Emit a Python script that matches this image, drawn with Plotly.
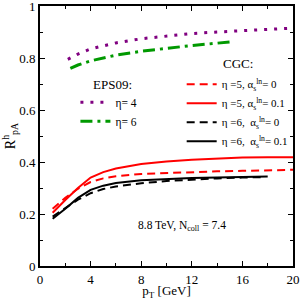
import plotly.graph_objects as go

# EPS09 curves
eps_eta4_x = [2.2, 3, 4, 6, 8, 10, 12, 14, 16, 18, 20]
eps_eta4_y = [0.795, 0.815, 0.835, 0.858, 0.874, 0.885, 0.894, 0.900, 0.905, 0.910, 0.915]
eps_eta6_x = [2.4, 3, 4, 5, 6, 8, 10, 12, 14, 15]
eps_eta6_y = [0.760, 0.773, 0.789, 0.801, 0.811, 0.826, 0.838, 0.848, 0.857, 0.862]

# CGC curves
cgc_x = [1, 1.5, 2, 3, 4, 5, 6, 8, 10, 12, 14, 16, 18, 20]
cgc_e5_a0 = [0.220, 0.242, 0.262, 0.297, 0.323, 0.337, 0.345, 0.354, 0.358, 0.361, 0.364, 0.366, 0.368, 0.370]
cgc_e5_a01 = [0.205, 0.230, 0.254, 0.300, 0.340, 0.361, 0.375, 0.392, 0.402, 0.409, 0.414, 0.417, 0.418, 0.418]
cgc_e6_a0_x = [1, 1.5, 2, 3, 4, 5, 6, 8, 10, 12, 14, 16, 17.7]
cgc_e6_a0 = [0.190, 0.206, 0.222, 0.255, 0.280, 0.296, 0.306, 0.318, 0.327, 0.333, 0.337, 0.340, 0.342]
cgc_e6_a01_x = [1, 1.5, 2, 3, 4, 5, 6, 8, 10, 12, 14, 16, 18]
cgc_e6_a01 = [0.182, 0.201, 0.220, 0.262, 0.293, 0.309, 0.319, 0.330, 0.335, 0.338, 0.340, 0.342, 0.344]

x_ticks = [0, 4, 8, 12, 16, 20]
y_ticks = [0, 0.2, 0.4, 0.6, 0.8, 1]
y_ticklabels = ["0", "0.2", "0.4", "0.6", "0.8", "1"]

FONT = "Liberation Serif"

fig = go.Figure()
fig.add_trace(go.Scatter(x=eps_eta4_x, y=eps_eta4_y, mode="lines", name="η= 4",
                         line=dict(color="#800080", width=3, dash="3px,7px"), legend="legend"))
fig.add_trace(go.Scatter(x=eps_eta6_x, y=eps_eta6_y, mode="lines", name="η= 6",
                         line=dict(color="#009900", width=3, dash="12px,5px,3px,5px"), legend="legend"))
fig.add_trace(go.Scatter(x=cgc_x, y=cgc_e5_a0, mode="lines", name="η =5, α<sub>s</sub><sup>ln</sup>= 0",
                         line=dict(color="#ff0000", width=2, dash="8px,5px"), legend="legend2"))
fig.add_trace(go.Scatter(x=cgc_x, y=cgc_e5_a01, mode="lines", name="η =5, α<sub>s</sub><sup>ln</sup>= 0.1",
                         line=dict(color="#ff0000", width=2), legend="legend2"))
fig.add_trace(go.Scatter(x=cgc_e6_a0_x, y=cgc_e6_a0, mode="lines", name="η =6,  α<sub>s</sub><sup>ln</sup>= 0",
                         line=dict(color="#000000", width=2, dash="8px,5px"), legend="legend2"))
fig.add_trace(go.Scatter(x=cgc_e6_a01_x, y=cgc_e6_a01, mode="lines", name="η =6,  α<sub>s</sub><sup>ln</sup>= 0.1",
                         line=dict(color="#000000", width=2), legend="legend2"))

axis_common = dict(showline=True, linecolor="black", linewidth=2, mirror="ticks",
                   ticks="inside", ticklen=5, tickwidth=1.2, tickcolor="black",
                   showgrid=False, zeroline=False, automargin=False, ticklabeloverflow="allow",
                   tickfont=dict(family=FONT, size=13, color="black"))

fig.update_xaxes(range=[0, 20], tickvals=x_ticks,
                 minor=dict(ticks="inside", ticklen=3, tickwidth=1.2, dtick=2, tickcolor="black"),
                 title=dict(text="p<sub>T</sub> [GeV]", font=dict(family=FONT, size=13, color="black"), standoff=0),
                 **axis_common)
fig.update_yaxes(range=[0, 1], tickvals=y_ticks, ticktext=y_ticklabels,
                 minor=dict(ticks="inside", ticklen=3, tickwidth=1.2, dtick=0.1, tickcolor="black"),
                 title=dict(text="R<sup>h</sup><sub>pA</sub>", font=dict(family=FONT, size=14, color="black"), standoff=2),
                 **axis_common)

fig.update_layout(
    width=300, height=300,
    margin=dict(l=40, r=7, t=6, b=34),
    plot_bgcolor="white", paper_bgcolor="white",
    font=dict(family=FONT, size=12, color="black"),
    legend=dict(x=0.14, y=0.686, xanchor="left", yanchor="top", bgcolor="rgba(0,0,0,0)",
                font=dict(family=FONT, size=11.5), tracegroupgap=0, itemwidth=30),
    legend2=dict(x=0.56, y=0.755, xanchor="left", yanchor="top", bgcolor="rgba(0,0,0,0)",
                 font=dict(family=FONT, size=11), tracegroupgap=0, itemwidth=30),
    annotations=[
        dict(text="EPS09:", x=0.2, y=0.70, xref="paper", yref="paper", showarrow=False,
             xanchor="left", yanchor="middle", font=dict(family=FONT, size=13)),
        dict(text="CGC:", x=0.715, y=0.778, xref="paper", yref="paper", showarrow=False,
             xanchor="left", yanchor="middle", font=dict(family=FONT, size=13)),
        dict(text="8.8 TeV, N<sub>coll</sub> = 7.4", x=0.56, y=0.155, xref="paper", yref="paper",
             showarrow=False, xanchor="center", yanchor="middle", font=dict(family=FONT, size=11.5)),
    ],
)

fig.write_html("out.html", config={"displayModeBar": False},
               post_script="document.body.style.margin='0';document.body.style.overflow='hidden';")
